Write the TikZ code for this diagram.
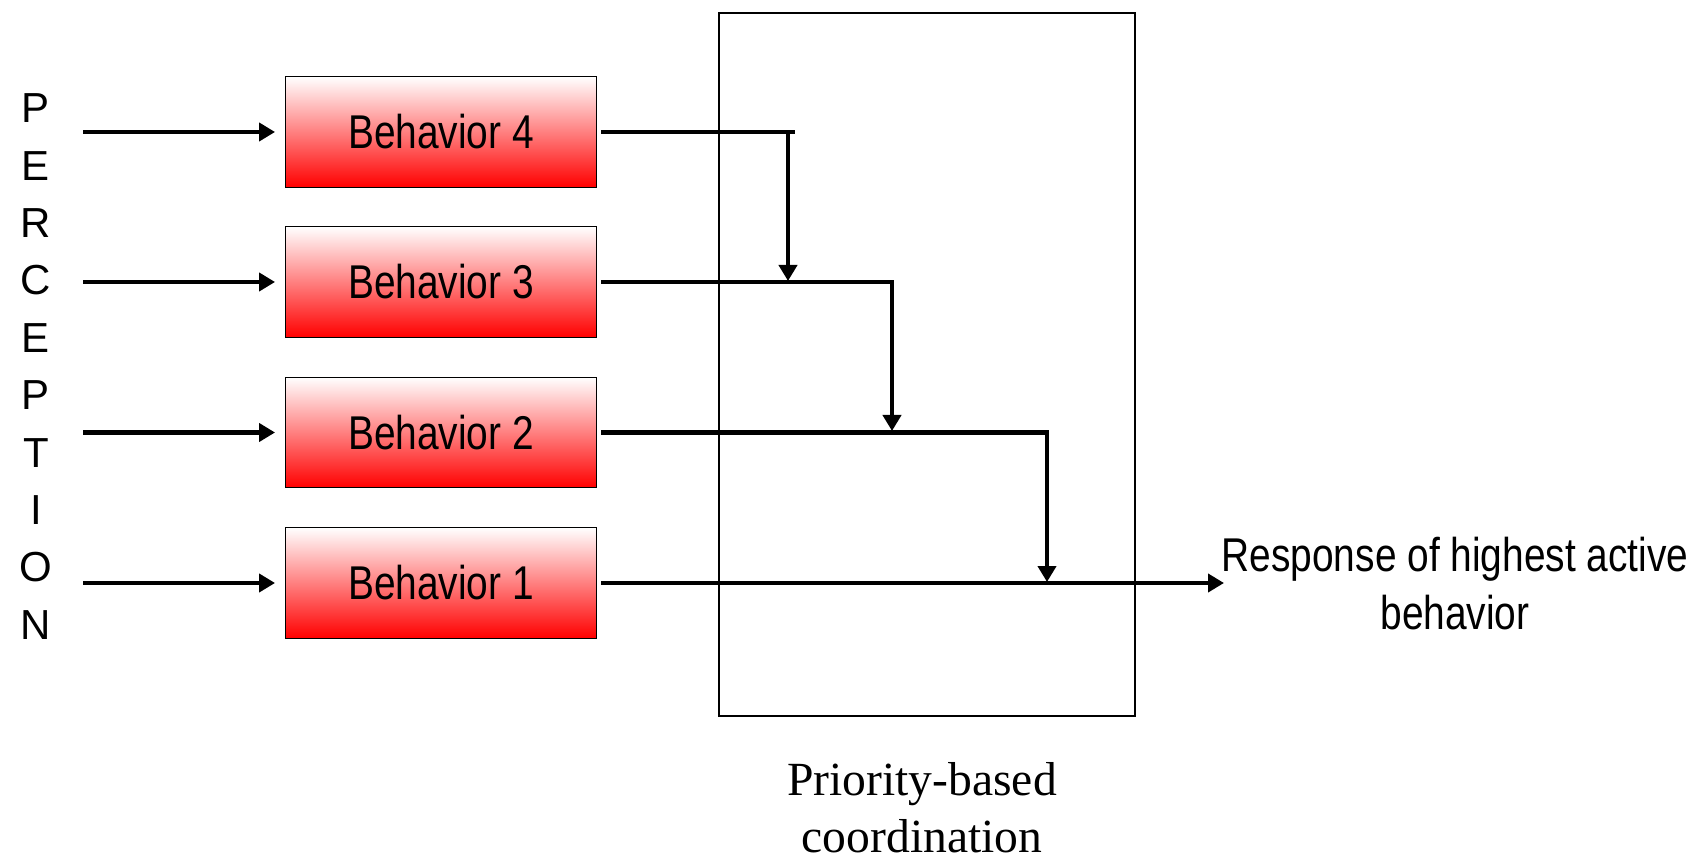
\documentclass[tikz,border=0pt]{standalone}
\usepackage{fontspec}
\setmainfont{Liberation Serif}
\newfontfamily\narrowsans[FakeStretch=0.82]{Liberation Sans}
\newfontfamily\plainsans{Liberation Sans}
\usetikzlibrary{arrows.meta}

\begin{document}
\begin{tikzpicture}[x=0.5pt,y=-0.5pt,
  behavior/.style={draw=black, line width=0.7pt, minimum width=155.75pt,
    minimum height=55.25pt, inner sep=0pt, top color=white, bottom color=red,
    font=\narrowsans\fontsize{23.7}{28}\selectfont},
  link/.style={line width=2.1pt},
  arrowlink/.style={link, -{Triangle[length=8pt,width=9pt]}},
  frame/.style={draw=black, line width=1pt, minimum width=208pt,
    minimum height=351.5pt, inner sep=0pt},
]
\useasboundingbox (0,0) rectangle (1696,865);

% coordination block
\node[frame] (coord) at (927,364.5) {};
\node[align=center, font=\fontsize{23.8}{28.5}\selectfont] (coordlabel)
  at (922,808) {Priority-based\\coordination};

% perception column
\node[align=center, font=\plainsans\fontsize{21}{28.7}\selectfont] (perc)
  at (36,366.5) {P\\E\\R\\C\\E\\P\\T\\I\\O\\N};

% behaviors
\node[behavior] (b4) at (441,132) {Behavior 4};
\node[behavior] (b3) at (441,282) {Behavior 3};
\node[behavior] (b2) at (441,432.5) {Behavior 2};
\node[behavior] (b1) at (441,583) {Behavior 1};

% sensor inputs
\foreach \i/\y in {4/132,3/282,2/432.5,1/583}{
  \coordinate (in\i) at (83,\y);
  \draw[arrowlink] (in\i) -- ([xshift=-4.75pt]b\i.west);
}

% suppression chain
\coordinate (h4) at (795,132);
\coordinate (d4) at (788,132);
\coordinate (e4) at (788,281);
\coordinate (h3) at (894,282);
\coordinate (d3) at (892,282);
\coordinate (e3) at (892,431);
\coordinate (h2) at (1049,432.5);
\coordinate (d2) at (1047,432.5);
\coordinate (e2) at (1047,582);
\coordinate (out) at (1224,583);

\draw[link] ([xshift=2pt]b4.east) -- (h4);
\draw[arrowlink] (d4) -- (e4);
\draw[link] ([xshift=2pt]b3.east) -- (h3);
\draw[arrowlink] (d3) -- (e3);
\draw[link] ([xshift=2pt]b2.east) -- (h2);
\draw[arrowlink] (d2) -- (e2);
\draw[arrowlink] ([xshift=2pt]b1.east) -- (out);

% output label
\node[align=center, font=\narrowsans\fontsize{23.7}{29}\selectfont] (resp)
  at (1455,584) {Response of highest active\\behavior};
\end{tikzpicture}
\end{document}
